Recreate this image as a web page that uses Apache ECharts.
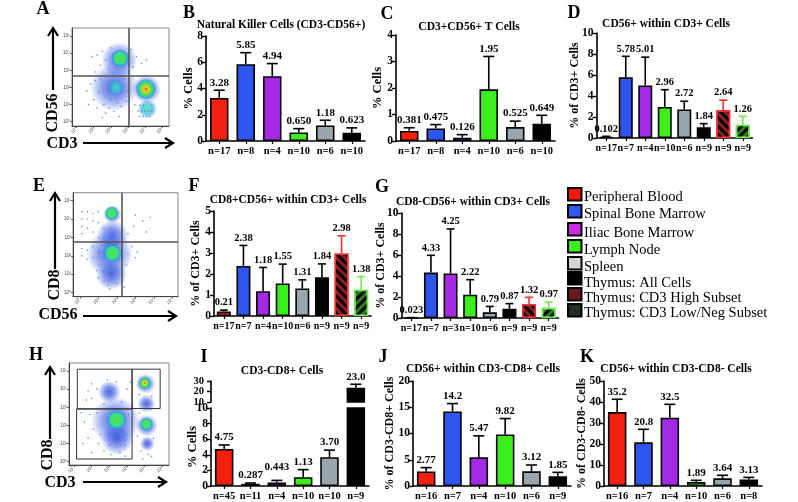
<!DOCTYPE html>
<html><head><meta charset="utf-8">
<style>html,body{margin:0;padding:0;background:#fff}#c{width:798px;height:502px}</style>
<script src="https://cdn.jsdelivr.net/npm/echarts@6/dist/echarts.min.js"></script>
</head><body><div id="c"></div>
<script>
// ---------- bar panel data ----------
const catsB=['n=17','n=8','n=4','n=10','n=6','n=10'];
const valsB=[3.28,5.85,4.94,0.65,1.18,0.623];
const errsB=[3.87,6.73,5.9,0.94,1.58,1.0];
const labsB=['3.28','5.85','4.94','0.650','1.18','0.623'];

const catsC=['n=17','n=8','n=4','n=10','n=6','n=10'];
const valsC=[0.381,0.475,0.126,1.95,0.525,0.649];
const errsC=[0.5,0.62,0.24,3.19,0.75,0.97];
const labsC=['0.381','0.475','0.126','1.95','0.525','0.649'];

const catsD=['n=17','n=7','n=4','n=10','n=6','n=9','n=9','n=9'];
const valsD=[0.102,5.78,5.01,2.96,2.72,1.02,2.64,1.26];
const errsD=[0.16,7.78,7.7,4.6,3.5,1.37,3.6,2.06];
const labsD=['0.102','5.78','5.01','2.96','2.72','1.84','2.64','1.26'];

const catsF=['n=17','n=7','n=4','n=10','n=6','n=9','n=9','n=9'];
const valsF=[0.21,2.38,1.18,1.55,1.31,1.84,2.98,1.25];
const errsF=[0.28,3.36,2.31,2.47,1.72,2.48,3.82,1.88];
const labsF=['0.21','2.38','1.18','1.55','1.31','1.84','2.98','1.38'];

const catsG=['n=17','n=7','n=3','n=10','n=6','n=9','n=9','n=9'];
const valsG=[0.023,4.33,4.25,2.22,0.54,0.87,1.32,0.97];
const errsG=[0.04,5.97,8.48,3.65,1.1,1.37,1.97,1.52];
const labsG=['0.023','4.33','4.25','2.22','0.79','0.87','1.32','0.97'];

const catsI=['n=45','n=11','n=4','n=10','n=10','n=9'];
const valsI=[4.75,0.287,0.443,1.13,3.7,23.6];
const errsI=[5.26,0.38,0.72,2.1,4.6,26.9];
const labsI=['4.75','0.287','0.443','1.13','3.70','23.0'];
const upperTicksI=[10,20,30];

const catsJ=['n=16','n=7','n=4','n=10','n=6','n=9'];
const valsJ=[2.77,14.2,5.47,9.82,2.8,1.85];
const errsJ=[3.5,15.7,9.55,12.85,4.0,2.6];
const labsJ=['2.77','14.2','5.47','9.82','3.12','1.85'];

const catsK=['n=16','n=7','n=4','n=10','n=6','n=8'];
const valsK=[35.2,20.8,32.5,1.89,3.64,3.13];
const errsK=[41.3,27,38.9,2.7,5.1,4.1];
const labsK=['35.2','20.8','32.5','1.89','3.64','3.13'];

const legendNames=['Peripheral Blood','Spinal Bone Marrow','Iliac Bone Marrow','Lymph Node','Spleen','Thymus: All Cells','Thymus: CD3 High Subset','Thymus: CD3 Low/Neg Subset'];
const logTicks=['10\u2070','10\u00b9','10\u00b2','10\u00b3','10\u2074','10\u2075'];

// ---------- flow-plot data (log10 decades): cx, cy, rx, ry, kind ----------
const blobsA=[[2.5,3.6,1.5,1.05,0],[2.2,2.0,1.7,1.4,0],[4.1,1.9,0.85,1.1,0],[4.15,0.75,0.55,0.85,3],
 [2.55,3.7,0.55,0.52,1],[2.3,2.0,0.55,0.5,3],[4.06,1.9,0.62,0.85,2]];
const blobsE=[[1.75,4.25,1.1,0.5,0],[1.75,3.1,0.85,1.1,0],[1.6,2.1,1.25,1.3,0],[1.7,1.0,0.85,0.95,0],
 [1.72,4.31,0.7,0.38,1],[1.76,2.14,0.5,0.72,1]];
const blobsH=[[4.05,4.3,0.72,0.55,0],[4.1,3.2,0.5,1.3,0],[4.12,2.0,0.62,1.1,0],[4.15,1.0,0.42,0.8,0],
 [2.35,2.25,1.6,1.35,0],[2.45,1.3,0.95,1.0,0],[2.0,3.85,1.4,0.62,0],
 [4.0,4.33,0.5,0.36,2],[4.1,2.07,0.38,0.75,1],[2.41,2.3,0.65,0.55,1]];
const dotsA=[[1.2,3.9],[1.5,4.1],[1.7,3.6],[1.4,3.3],[1.9,3.1],[0.9,3.8],[2.0,4.3],[3.2,4.2],[3.5,3.8],[3.3,3.2],[3.8,3.4],[4.1,3.6],[0.8,2.2],[1.1,2.4],[1.3,1.7],[1.0,1.3],[1.6,1.0],[1.9,0.8],[2.2,0.6],[2.6,0.9],[2.9,1.2],[3.0,1.8],[1.4,2.5],[0.6,1.8],[2.4,1.1],[1.7,0.5],[3.6,0.62],[3.8,0.62],[4.0,0.62],[4.2,0.62],[4.4,0.62],[3.7,0.3],[3.9,0.3],[4.1,0.3],[4.3,0.3],[3.7,0.95],[3.9,0.95],[4.4,0.95],[1.5,0.25],[2.5,0.3],[2.0,1.3],[3.1,0.6],[1.2,0.8],[2.8,2.5],[0.7,1.0],[1.1,2.9],[2.1,2.9],[3.4,1.0]];
const dotsE=[[0.1,4.4],[0.1,4.0],[0.1,3.6],[0.1,3.2],[0.1,2.4],[0.1,2.0],[0.4,4.4],[0.4,4.0],[0.4,3.5],[0.4,2.3],[0.4,1.8],[0.7,4.3],[0.7,3.9],[0.7,3.3],[0.7,2.5],[0.7,1.9],[1.0,4.4],[1.0,3.8],[1.0,3.0],[1.0,2.2],[1.0,1.5],[1.0,0.8],[1.3,3.5],[1.3,3.0],[1.3,1.2],[1.3,0.6],[0.9,1.2],[1.5,0.4],[2.0,0.5],[2.6,3.2],[2.8,2.5],[3.0,1.9],[2.6,2.1],[2.5,1.5],[3.0,4.2],[3.4,3.9],[3.8,4.1],[2.9,3.6],[2.4,0.3],[1.6,0.2],[3.1,2.2],[3.6,3.3]];
const dotsH=[[0.6,2.2],[0.9,2.6],[1.1,1.8],[0.8,1.3],[1.4,1.0],[1.7,0.6],[1.0,0.5],[2.1,0.4],[2.6,0.5],[2.9,0.9],[3.0,1.5],[3.1,2.6],[0.5,1.0],[0.4,2.7],[1.3,2.7],[0.8,3.9],[1.0,4.3],[1.3,4.0],[1.0,3.5],[0.7,3.4],[1.7,3.2],[2.7,3.3],[3.0,4.0],[3.2,4.4],[2.4,4.4],[1.9,4.5],[3.3,3.1],[3.7,3.7],[4.4,3.6],[4.4,2.9],[3.7,2.7],[3.6,1.4],[4.5,1.3],[3.8,0.6],[4.2,0.4],[4.4,0.3],[3.9,0.15],[2.0,0.9],[1.5,1.5],[2.9,0.3]];
const gatesH=[[0.19,2.91,3.29,5.1],[3.29,2.93,4.88,5.1],[0.15,0.15,3.29,2.91]];
const blobKinds=[
 [[0,'rgba(45,75,215,.85)'],[.5,'rgba(60,95,225,.6)'],[.8,'rgba(90,120,235,.3)'],[1,'rgba(110,140,240,0)']],
 [[0,'#4ee248'],[.6,'#3ee07a'],[.82,'rgba(40,175,220,.85)'],[1,'rgba(40,100,230,0)']],
 [[0,'#e84030'],[.2,'#f0d020'],[.5,'#60e040'],[.8,'rgba(30,190,210,.9)'],[1,'rgba(40,100,230,0)']],
 [[0,'rgba(70,225,170,.9)'],[.6,'rgba(50,190,220,.7)'],[1,'rgba(50,110,230,0)']]
];

// ---------- styles ----------
const SERIF='"Liberation Serif","DejaVu Serif",serif';
const colors=['#f4200f','#2e55ee','#a52ae8','#3cef1c','#9aa6ae','#000','#d83030','#48cc2c'];
const edge=['#000','#000','#000','#000','#000','#000','#ee3030','#70e850'];
const legendFill=['#f01a10','#2e5cf0','#c82ee0','#3cf01c','#d2d6d6','#000','#6a1a1e','#1e3020'];
const legendTop=[188,205,223,240,257,272,288,304];
const legendTextY=[197,214,233,250,267,283,298,313];

const grids=[],xAxes=[],yAxes=[],series=[],titles=[],graphics=[];
const boldAxis={color:'#000',fontFamily:SERIF,fontWeight:'bold',fontSize:11.5};

function barStyle(i){
  const s={color:colors[i],borderColor:edge[i],borderWidth:1.6};
  if(i>=6){
    s.color=i===6?'#8c1f1f':'#2f7a20';
    s.decal={symbol:'rect',symbolSize:1,color:'#000',dashArrayX:[1,0],dashArrayY:[2.4,2.4],rotation:i===6?Math.PI/4:-Math.PI/4};
  }
  return s;
}
function addGrid(g,cats,y,showX){
  const idx=grids.length;
  grids.push({left:g.left,top:g.top,width:g.width,height:g.height,containLabel:false});
  xAxes.push({gridIndex:idx,type:'category',data:cats,show:showX,
    axisLine:{lineStyle:{color:'#000',width:1.6}},
    axisTick:{show:true,alignWithLabel:true,length:3,lineStyle:{color:'#000',width:1.2}},
    axisLabel:Object.assign({},boldAxis,{interval:0,margin:5,fontSize:cats.length===8?10:10.5,hideOverlap:false})});
  yAxes.push(Object.assign({gridIndex:idx,type:'value',scale:false,nameMoveOverlap:false,
    axisLine:{show:true,lineStyle:{color:'#000',width:1.6}},
    axisTick:{show:true,length:4,lineStyle:{color:'#000',width:1.4}},
    axisLabel:Object.assign({},boldAxis,{margin:3}),
    splitLine:{show:false}},y));
  return idx;
}
function addBars(idx,vals,errs,labs,bw,cap,only,nudge){
  const fs=vals.length===8?10.5:11;
  series.push({type:'custom',xAxisIndex:idx,yAxisIndex:idx,z:1,clip:false,
    data:errs.map((e,i)=>[i,e]),
    renderItem(p,api){
      const i=p.dataIndex; if(only&&!only.includes(i)) return {type:'group',children:[]};
      const a=api.coord([i,Math.min(vals[i],api.value(1))]),b=api.coord([i,api.value(1)]);
      const st={stroke:edge[i],lineWidth:1.6,fill:'none'};
      return {type:'group',children:[
        {type:'line',shape:{x1:a[0],y1:a[1],x2:b[0],y2:b[1]},style:st},
        {type:'line',shape:{x1:b[0]-cap/2,y1:b[1],x2:b[0]+cap/2,y2:b[1]},style:st},
        {type:'text',x:b[0],y:b[1]-2-(nudge?nudge[i]:0),style:{text:labs[i],align:'center',verticalAlign:'bottom',fill:'#000',font:'bold '+fs+'px '+SERIF}}
      ]};
    }});
  series.push({type:'bar',xAxisIndex:idx,yAxisIndex:idx,z:2,barWidth:bw,clip:true,
    data:vals.map((v,i)=>({value:v,itemStyle:barStyle(i)}))});
}
function barPanel(g,cats,vals,errs,labs,max,interval,name,gap,title,tx,ty){
  const eight=cats.length===8;
  const idx=addGrid(g,cats,{min:0,max:max,interval:interval,name:name,nameLocation:'middle',nameGap:gap,nameRotate:90,
    nameTextStyle:{color:'#000',fontFamily:SERIF,fontWeight:'bold',fontSize:g.nameSize||12}},true);
  addBars(idx,vals,errs,labs,eight?14:18.5,eight?8:11);
  titles.push({text:title,left:tx,top:ty,textAlign:'center',textVerticalAlign:'middle',padding:0,
    textStyle:{color:'#000',fontFamily:SERIF,fontWeight:'bold',fontSize:g.titleSize||11.5}});
}
barPanel({left:206,top:36,width:159,height:105,nameSize:12.5},catsB,valsB,errsB,labsB,8,2,'% Cells',11,'Natural Killer Cells (CD3-CD56+)',281,25);
barPanel({left:396,top:35,width:159,height:106,nameSize:12.5},catsC,valsC,errsC,labsC,4,1,'% Cells',12,'CD3+CD56+ T Cells',469,27);
barPanel({left:596.5,top:33,width:156,height:105},catsD,valsD,errsD,labsD,10,2,'% of CD3+ Cells',16,'CD56+ within CD3+ Cells',666,24);
barPanel({left:214,top:211,width:157,height:105},catsF,valsF,errsF,labsF,5,1,'% of CD3+ Cells',12,'CD8+CD56+ within CD3+ Cells',288,200);
barPanel({left:401.5,top:213,width:157,height:105},catsG,valsG,errsG,labsG,10,2,'% of CD3+ Cells',15,'CD8-CD56+ within CD3+ Cells',473,202);
barPanel({left:413,top:381,width:158,height:105},catsJ,valsJ,errsJ,labsJ,20,5,'% of CD3-CD8+ Cells',17,'CD56+ within CD3-CD8+ Cells',483,369);
barPanel({left:604,top:381,width:158,height:105},catsK,valsK,errsK,labsK,50,10,'% of CD3-CD8- Cells',16,'CD56+ within CD3-CD8- Cells',676,369);

// Panel I: broken axis drawn as two stacked grids sharing one set of arrays
const nudgeI=[0,0,6,0,0,0];
const iLow=addGrid({left:211,top:408,width:158,height:78},catsI,{min:0,max:10,interval:2,name:'% Cells',nameLocation:'middle',nameGap:12,nameRotate:90,
  nameTextStyle:{color:'#000',fontFamily:SERIF,fontWeight:'bold',fontSize:12.5}},true);
addBars(iLow,valsI,errsI,labsI,18.5,11,[0,1,2,3,4],nudgeI);
const iUp=addGrid({left:211,top:381,width:158,height:21},catsI,{min:10,max:30,interval:10,axisLabel:{show:false},axisTick:{show:true,length:4,lineStyle:{color:'#000',width:1.4}}},false);
addBars(iUp,valsI,errsI,labsI,18.5,11,[5]);
// the short upper segment crowds its tick labels, so they are placed through its own scale
series.push({type:'custom',xAxisIndex:iUp,yAxisIndex:iUp,z:3,clip:false,data:upperTicksI.map(v=>[0,v]),
  renderItem(p,api){
    const c=api.coord([0,api.value(1)]),g=p.coordSys;
    return {type:'text',x:g.x-7,y:c[1],style:{text:String(api.value(1)),align:'right',verticalAlign:'middle',fill:'#000',font:'bold 10.5px '+SERIF}};
  }});
titles.push({text:'CD3-CD8+ Cells',left:282,top:371,textAlign:'center',textVerticalAlign:'middle',padding:0,
  textStyle:{color:'#000',fontFamily:SERIF,fontWeight:'bold',fontSize:11.5}});

// ---------- flow plots ----------
function flow(g,xr,yr,blobs,dots,cross,gates){
  const idx=grids.length;
  grids.push({left:g.left,top:g.top,width:g.width,height:g.height,show:true,borderColor:'#888',borderWidth:1});
  const ax=(r,rot)=>({gridIndex:idx,type:'value',min:r[0],max:r[1],
    axisLine:{show:true,onZero:false,lineStyle:{color:'#444',width:1}},
    axisTick:{show:true,length:2,customValues:[0,1,2,3,4,5],lineStyle:{color:'#444',width:0.8}},
    axisLabel:{show:true,fontSize:4.5,color:'#444',margin:2,rotate:rot,customValues:[0,1,2,3,4,5],formatter:v=>logTicks[v]||''},
    splitLine:{show:false}});
  xAxes.push(ax(xr,45)); yAxes.push(ax(yr,0));
  series.push({type:'custom',xAxisIndex:idx,yAxisIndex:idx,z:1,clip:true,data:blobs,
    renderItem(p,api){
      const c=api.coord([api.value(0),api.value(1)]);
      const a=api.coord([api.value(0)+api.value(2),api.value(1)+api.value(3)]);
      const rx=Math.abs(a[0]-c[0]),ry=Math.abs(a[1]-c[1]);
      const stops=blobKinds[api.value(4)].map(s=>({offset:s[0],color:s[1]}));
      return {type:'ellipse',shape:{cx:c[0],cy:c[1],rx:rx,ry:ry},
        style:{fill:new echarts.graphic.RadialGradient(0.5,0.5,0.5,stops)}};
    }});
  series.push({type:'scatter',xAxisIndex:idx,yAxisIndex:idx,z:2,symbolSize:1.6,silent:true,data:dots,
    itemStyle:{color:'#4f70e0',opacity:.8},
    markLine:cross?{silent:true,symbol:'none',animation:false,label:{show:false},lineStyle:{color:'#555',width:1.6,type:'solid'},
      data:[{xAxis:cross[0]},{yAxis:cross[1]}]}:undefined});
  if(gates) series.push({type:'custom',xAxisIndex:idx,yAxisIndex:idx,z:3,data:gates,
    renderItem(p,api){
      const a=api.coord([api.value(0),api.value(1)]),b=api.coord([api.value(2),api.value(3)]);
      return {type:'rect',shape:{x:a[0],y:b[1],width:b[0]-a[0],height:a[1]-b[1]},style:{fill:'none',stroke:'#333',lineWidth:1}};
    }});
}
const crossA=[3.08,2.67],crossE=[2.27,2.77];
flow({left:72,top:28,width:97,height:98},[-0.27,5.41],[-0.25,5.47],blobsA,dotsA,crossA);
flow({left:73,top:192.7,width:105,height:104},[-0.38,5.31],[-0.22,5.43],blobsE,dotsE,crossE);
flow({left:69,top:363,width:100,height:102},[-0.28,5.38],[-0.18,5.44],blobsH,dotsH,null,gatesH);

// ---------- annotations ----------
function T(text,x,y,size,extra){
  graphics.push({type:'text',x:x,y:y,rotation:(extra&&extra.rot)||0,
    style:{text:text,align:'center',verticalAlign:'middle',fill:'#000',font:'bold '+size+'px '+SERIF}});
}
[['A',43,9],['B',189,13],['C',387,14],['D',574,13],['E',39,186],['F',194,186],['G',382,187],['H',36,355],['I',204,357],['J',383,357],['K',587,357]]
  .forEach(l=>T(l[0],l[1],l[2],18));
function arrow(x1,y1,x2,y2){
  const dx=Math.sign(x2-x1),dy=Math.sign(y2-y1),h=8,w=5;
  graphics.push({type:'line',shape:{x1,y1,x2:x2-dx*2,y2:y2-dy*2},style:{stroke:'#000',lineWidth:2.2}});
  graphics.push({type:'polyline',shape:{points:[[x2-dx*h-dy*w,y2-dy*h-dx*w],[x2,y2],[x2-dx*h+dy*w,y2-dy*h+dx*w]]},style:{stroke:'#000',lineWidth:2.2,fill:'none'}});
}
arrow(53,90,53,28);arrow(83,143,173,143);
arrow(55,269,55,193);arrow(83,316,176,316);
arrow(50,439,50,367);arrow(83,482,166,482);
T('CD56',53,113,16,{rot:Math.PI/2});T('CD3',62,144,16);
T('CD8',55,285,16,{rot:Math.PI/2});T('CD56',58,315,16);
T('CD8',48,455,16,{rot:Math.PI/2});T('CD3',60,483,16);
legendNames.forEach((n,i)=>{
  graphics.push({type:'rect',shape:{x:568,y:legendTop[i],width:13.5,height:12.5},style:{fill:legendFill[i],stroke:'#000',lineWidth:2}});
  graphics.push({type:'text',x:584,y:legendTextY[i],style:{text:n,align:'left',verticalAlign:'middle',fill:'#000',font:'14.5px '+SERIF}});
});

const chart=echarts.init(document.getElementById('c'),null,{renderer:'canvas'});
chart.setOption({animation:false,backgroundColor:'#fff',aria:{show:false},title:titles,grid:grids,xAxis:xAxes,yAxis:yAxes,series:series,graphic:{elements:graphics},tooltip:{show:false}});
</script></body></html>
